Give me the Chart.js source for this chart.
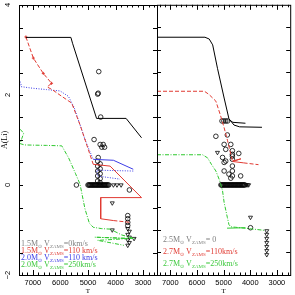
<!DOCTYPE html>
<html>
<head>
<meta charset="utf-8">
<script src="https://cdn.jsdelivr.net/npm/chart.js@4.4.0/dist/chart.umd.min.js"></script>
<style>
  html, body { margin: 0; padding: 0; background: #fff; }
  #wrap { position: relative; width: 295px; height: 295px; }
  #wrap canvas { position: absolute; left: 0; top: 0; }
</style>
</head>
<body>
<div id="wrap">
  <canvas id="leftPanel" width="295" height="295"></canvas>
  <canvas id="rightPanel" width="295" height="295"></canvas>
</div>
<script>
// tick labels
const xTickVals = [7000, 6000, 5000, 4000, 3000];
const yTickVals = [-2, 0, 2, 4];

// ---- left panel: models ----
const lBlackT = [7250, 5620, 5560, 4690, 3620, 3060];
const lBlackA = [3.28, 3.28, 3.15, 1.48, 1.48, 1.05];

const lRedT = [7250, 6980, 6620, 6320, 6480, 6300, 5950, 5590, 5290, 4990, 4810];
const lRedA = [3.29, 2.82, 2.48, 2.26, 2.18, 2.12, 1.97, 1.82, 1.34, 0.79, 0.46];
const lRed2T = [4810, 4200, 3060, 4540, 4540, 4080];
const lRed2A = [0.46, 0.42, -0.28, -0.28, -0.75, -0.79];
const lRed3T = [4080, 3480];
const lRed3A = [-0.79, -0.83];

const lBlueT = [7460, 7420, 7480, 7000, 6500, 6010, 5710, 5500, 5290, 5100, 4990, 4810];
const lBlueA = [2.30, 2.22, 2.19, 2.15, 2.12, 2.09, 1.97, 1.72, 1.34, 1.00, 0.83, 0.57];
const lBlue2T = [4810, 4080, 3360];
const lBlue2A = [0.57, 0.55, 0.35];
const lBlue3T = [3360, 4690, 4650, 3840];
const lBlue3A = [0.31, 0.33, 0.20, 0.13];

const lGreenT = [7460, 7330, 7400, 7460, 7300, 6500, 5950, 5700, 5450, 5290, 5110, 4950, 4810, 4500, 4200, 3780, 3300, 4750, 3540, 4650, 3700];
const lGreenA = [1.24, 1.15, 1.03, 0.92, 0.89, 0.88, 0.87, 0.60, 0.25, 0.02, -0.53, -0.85, -0.94, -0.97, -0.98, -1.11, -1.19, -1.16, -1.19, -1.23, -1.34];

// ---- left panel: stars ----
const lCircT = [4610, 4650, 4630, 4540, 4780, 4560, 4450, 4400, 4500,
  4630, 4650, 4560, 4650, 4560, 4650, 4560, 4650, 4560, 4650, 4560,
  5420, 3500, 3560, 3560, 3560, 3560,
  5000, 4970, 4940, 4910, 4880, 4850, 4820, 4790, 4760, 4730, 4700, 4670, 4640, 4610, 4580, 4550,
  4520, 4490, 4460, 4430, 4400, 4370, 4340, 4310, 4280, 4250];
const lCircA = [2.52, 2.02, 2.04, 1.51, 1.01, 0.90, 0.90, 0.84, 0.84,
  0.61, 0.53, 0.47, 0.42, 0.36, 0.31, 0.25, 0.20, 0.14, 0.09, 0.05,
  0, -0.11, -0.68, -0.75, -0.83, -0.90,
  0, 0, 0, 0, 0, 0, 0, 0, 0, 0, 0, 0, 0, 0, 0, 0,
  0, 0, 0, 0, 0, 0, 0, 0, 0, 0];
const lTriT = [4080, 3950, 3800, 4120, 4120, 3560, 3500, 3560, 3500, 3560, 3500, 3560, 3330];
const lTriA = [0, 0, 0, -0.40, -1.00, -0.97, -1.03, -1.10, -1.16, -1.22, -1.28, -1.34, -1.19];

// ---- right panel: models ----
const rBlackT = [7500, 5700, 5540, 5410, 5230, 4980, 4800, 4610, 4400, 3560];
const rBlackA = [3.28, 3.28, 3.24, 3.11, 2.59, 1.93, 1.47, 1.33, 1.29, 1.28];
const rBlack2T = [4800, 4650, 4180];
const rBlack2A = [1.45, 1.39, 1.37];

const rRedT = [7500, 5720, 5550, 5290, 5120, 4980, 4850, 4670];
const rRedA = [2.08, 2.08, 2.01, 1.86, 1.55, 1.27, 0.98, 0.53];
const rRed2T = [4670, 4350, 4650, 4250];
const rRed2A = [0.53, 0.58, 0.52, 0.49];
const rRed3T = [4250, 3690];
const rRed3A = [0.49, 0.45];

const rGreenT = [7500, 5790, 5600, 5450, 5290, 5150, 5040, 4980, 4860, 4800, 4730, 4550, 4060, 3440];
const rGreenA = [0.67, 0.67, 0.60, 0.45, 0.31, 0.10, -0.13, -0.39, -0.72, -0.88, -0.93, -0.94, -0.97, -1.01];
const rGreen2T = [4870, 4180];
const rGreen2A = [-0.96, -0.95];

// ---- right panel: stars ----
const rCircT = [5060, 4990, 4920, 4850, 5290, 4860, 4980, 4730, 4920, 4670, 4430, 4670,
  5040, 4670, 4980, 4920, 4670, 4670, 4670, 4980, 4800, 4670, 4360, 4730,
  5100, 5070, 5040, 5010, 4980, 4950, 4920, 4890, 4860, 4830, 4800, 4770, 4740, 4710, 4680, 4650,
  4620, 4590, 4560, 4530, 4500, 4470, 4440, 4410, 4380, 4350, 4320, 4290, 4260, 4230, 4200,
  3990];
const rCircA = [1.42, 1.42, 1.42, 1.42, 1.08, 1.11, 0.90, 0.90, 0.79, 0.76, 0.70, 0.68,
  0.61, 0.64, 0.50, 0.53, 0.57, 0.42, 0.31, 0.31, 0.24, 0.20, 0.20, 0.15,
  0, 0, 0, 0, 0, 0, 0, 0, 0, 0, 0, 0, 0, 0, 0, 0,
  0, 0, 0, 0, 0, 0, 0, 0, 0, 0, 0, 0, 0, 0, 0,
  -0.95];
const rTriT = [5230, 4150, 4100, 4060, 3990, 3380, 3380, 3380, 3380, 3380, 3380, 3380];
const rTriA = [0.72, 0, 0, 0, -0.72, -1.02, -1.10, -1.19, -1.28, -1.37, -1.46, -1.55];

// ---- legends ----
const leftLegMass = ['1.5', '1.5', '2.0', '2.0'];
const leftLegVel = ['=0km/s', '=110 km/s', '=110 km/s', '=250km/s'];
const leftLegColor = ['#808080', '#e03a32', '#3c3ce6', '#3cc83c'];
const rightLegMass = ['2.5', '2.7', '2.7'];
const rightLegVel = ['= 0', '=110km/s', '=250km/s'];
const rightLegColor = ['#808080', '#e03a32', '#3cc83c'];

const RED = '#e03a32', BLUE = '#3c3ce6', GREEN = '#2ec82e';

function pts(ts, as) { return ts.map((t, i) => ({ x: t, y: as[i] })); }

function line(ts, as, color, dash) {
  return { data: pts(ts, as), showLine: true, borderColor: color, borderWidth: 1,
    borderDash: dash || [], pointRadius: 0, fill: false, tension: 0 };
}
function marks(ts, as, style) {
  return { data: pts(ts, as), showLine: false, pointStyle: style,
    rotation: style === 'triangle' ? 180 : 0, pointRadius: 2.3,
    borderColor: '#000', borderWidth: 0.8, backgroundColor: 'rgba(0,0,0,0)' };
}

const frameTicks = {
  id: 'frameTicks',
  afterDraw(chart) {
    const { ctx, chartArea: a, scales: { x, y } } = chart;
    ctx.save();
    ctx.strokeStyle = '#000';
    ctx.lineWidth = 1;
    ctx.strokeRect(a.left + 0.5, a.top + 0.5, a.right - a.left, a.bottom - a.top);
    ctx.beginPath();
    for (let v = 2600; v < 7500; v += 200) {
      const px = Math.round(x.getPixelForValue(v)) + 0.5;
      const len = v % 1000 === 0 ? 5 : 2.5;
      ctx.moveTo(px, a.bottom); ctx.lineTo(px, a.bottom - len);
      ctx.moveTo(px, a.top); ctx.lineTo(px, a.top + len);
    }
    for (let v = -1.5; v < 4; v += 0.5) {
      const py = Math.round(y.getPixelForValue(v)) + 0.5;
      ctx.moveTo(a.left, py); ctx.lineTo(a.left + 4, py);
      ctx.moveTo(a.right, py); ctx.lineTo(a.right - 4, py);
    }
    ctx.stroke();
    if (chart.options.plugins.frameTicks.yLabels) {
      ctx.fillStyle = '#000';
      ctx.font = '7.5px "Liberation Sans"';
      ctx.textAlign = 'center';
      ctx.textBaseline = 'middle';
      yTickVals.forEach(v => {
        ctx.save();
        ctx.translate(8, y.getPixelForValue(v));
        ctx.rotate(-Math.PI / 2);
        ctx.fillText(v < 0 ? '\u2212' + Math.abs(v) : String(v), 0, 0);
        ctx.restore();
      });
    }
    ctx.restore();
  }
};

const legendText = {
  id: 'legendText',
  afterDraw(chart) {
    const o = chart.options.plugins.legendText;
    const ctx = chart.ctx;
    ctx.save();
    ctx.textBaseline = 'alphabetic';
    ctx.textAlign = 'left';
    o.mass.forEach((m, i) => {
      const runs = [[m + 'M', 0], ['\u2299', 1], [' V', 0], ['ZAMS', 1], [o.vel[i], 0]];
      let cx = o.x;
      const by = o.y + i * o.dy;
      ctx.fillStyle = o.color[i];
      runs.forEach(([t, sub]) => {
        ctx.font = (sub ? 5 : 8) + 'px "Liberation Serif"';
        ctx.fillText(t, cx, sub ? by + 1.5 : by);
        cx += ctx.measureText(t).width;
      });
    });
    ctx.restore();
  }
};

function xScale() {
  return {
    type: 'linear', min: 2500, max: 7500, reverse: true,
    afterBuildTicks: s => { s.ticks = xTickVals.map(v => ({ value: v })); },
    afterFit: s => { s.height = 20; },
    ticks: { color: '#000', padding: 3, maxRotation: 0, font: { family: 'Liberation Sans', size: 7.5 },
      callback: v => String(v) },
    grid: { display: false, drawTicks: false },
    border: { display: false },
    title: { display: true, text: 'T', color: '#000', padding: 0, font: { family: 'Liberation Serif', size: 7 } }
  };
}

function baseOptions(leftPad, rightPad) {
  return {
    responsive: false, animation: false, devicePixelRatio: 1,
    layout: { padding: { left: leftPad, right: rightPad, top: 3, bottom: 0 } },
    plugins: { legend: { display: false }, tooltip: { enabled: false } }
  };
}

const leftOpts = baseOptions(0, 138);
leftOpts.scales = {
  x: xScale(),
  y: {
    type: 'linear', min: -2, max: 4,
    afterFit: s => { s.width = 19; },
    ticks: { display: false },
    grid: { display: false, drawTicks: false },
    border: { display: false },
    title: { display: true, text: 'A(Li)', color: '#000', padding: 0, font: { family: 'Liberation Serif', size: 8 } }
  }
};
leftOpts.plugins.frameTicks = { yLabels: true };
leftOpts.plugins.legendText = { mass: leftLegMass, vel: leftLegVel, color: leftLegColor, x: 21, y: 246, dy: 7 };

const redL = line(lRedT, lRedA, RED, [4, 2]);
redL.pointRadius = lRedT.map((t, i) => i < 4 ? 1.5 : 0);
redL.pointStyle = 'cross';
redL.pointBorderColor = RED;

new Chart(document.getElementById('leftPanel'), {
  type: 'scatter',
  data: {
    datasets: [
      line(lBlackT, lBlackA, '#000'),
      redL,
      line(lRed2T, lRed2A, RED),
      line(lRed3T, lRed3A, RED, [4, 2]),
      line(lBlueT, lBlueA, BLUE, [1, 1.5]),
      line(lBlue2T, lBlue2A, BLUE),
      line(lBlue3T, lBlue3A, BLUE, [1, 1.5]),
      line(lGreenT, lGreenA, GREEN, [4, 1.5, 1, 1.5]),
      marks(lCircT, lCircA, 'circle'),
      marks(lTriT, lTriA, 'triangle')
    ]
  },
  options: leftOpts,
  plugins: [frameTicks, legendText]
});

const rightOpts = baseOptions(157, 3);
rightOpts.scales = {
  x: xScale(),
  y: { type: 'linear', min: -2, max: 4, display: false }
};
rightOpts.plugins.frameTicks = { yLabels: false };
rightOpts.plugins.legendText = { mass: rightLegMass, vel: rightLegVel, color: rightLegColor, x: 163, y: 242, dy: 12 };

new Chart(document.getElementById('rightPanel'), {
  type: 'scatter',
  data: {
    datasets: [
      line(rBlackT, rBlackA, '#000'),
      line(rBlack2T, rBlack2A, '#000'),
      line(rRedT, rRedA, RED, [4, 2]),
      line(rRed2T, rRed2A, RED),
      line(rRed3T, rRed3A, RED, [4, 2]),
      line(rGreenT, rGreenA, GREEN, [4, 1.5, 1, 1.5]),
      line(rGreen2T, rGreen2A, GREEN),
      marks(rCircT, rCircA, 'circle'),
      marks(rTriT, rTriA, 'triangle')
    ]
  },
  options: rightOpts,
  plugins: [frameTicks, legendText]
});
</script>
</body>
</html>
